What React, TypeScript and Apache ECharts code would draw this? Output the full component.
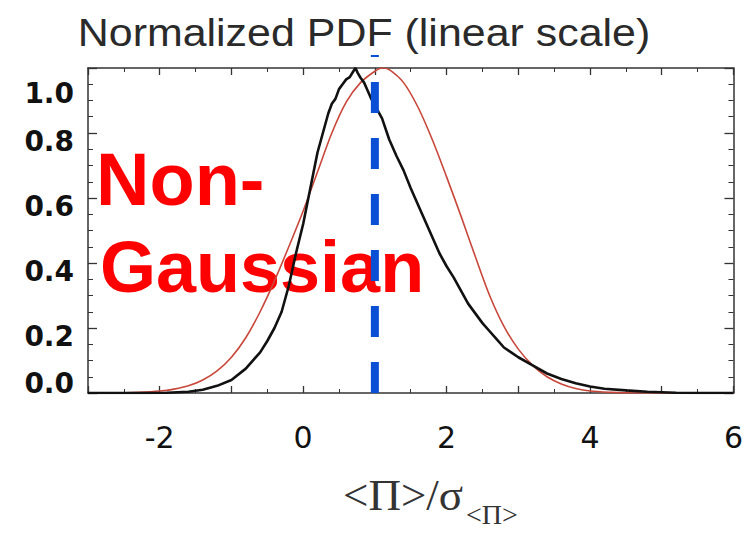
import React, { useEffect, useRef } from "react";
import * as echarts from "echarts";

// Empirical (black) normalized PDF
const blackX = [-3, -2.2, -1.9, -1.6, -1.4, -1.2, -1.0, -0.8, -0.6, -0.5, -0.4, -0.3, -0.2, -0.1, 0.0, 0.1, 0.2, 0.3, 0.35, 0.4, 0.45, 0.5, 0.55, 0.6, 0.65, 0.7, 0.73, 0.76, 0.8, 0.85, 0.9, 0.95, 1.0, 1.1, 1.2, 1.3, 1.4, 1.5, 1.6, 1.7, 1.8, 1.9, 2.0, 2.1, 2.2, 2.3, 2.4, 2.5, 2.6, 2.7, 2.8, 2.9, 3.0, 3.2, 3.4, 3.6, 3.8, 4.0, 4.2, 4.5, 4.8, 5.2, 5.6, 6];
const blackY = [0, 0, 0.001, 0.004, 0.01, 0.022, 0.04, 0.075, 0.125, 0.16, 0.2, 0.25, 0.33, 0.43, 0.52, 0.63, 0.74, 0.82, 0.86, 0.89, 0.905, 0.935, 0.95, 0.965, 0.972, 0.99, 1.0, 0.985, 0.97, 0.955, 0.93, 0.905, 0.885, 0.845, 0.78, 0.73, 0.685, 0.63, 0.58, 0.53, 0.48, 0.43, 0.39, 0.355, 0.315, 0.275, 0.245, 0.215, 0.19, 0.165, 0.14, 0.125, 0.11, 0.085, 0.06, 0.043, 0.03, 0.02, 0.013, 0.008, 0.004, 0.001, 0, 0];

// Gaussian reference (red)
const redX = [-3, -2.6, -2.3, -2.0, -1.8, -1.6, -1.4, -1.2, -1.0, -0.8, -0.6, -0.4, -0.2, 0.0, 0.2, 0.4, 0.6, 0.8, 1.0, 1.1, 1.2, 1.4, 1.6, 1.8, 2.0, 2.2, 2.4, 2.6, 2.8, 3.0, 3.2, 3.4, 3.6, 3.8, 4.0, 4.3, 4.6, 6];
const redY = [0, 0, 0.002, 0.006, 0.012, 0.022, 0.04, 0.068, 0.11, 0.17, 0.25, 0.345, 0.45, 0.56, 0.68, 0.8, 0.895, 0.955, 0.99, 1.0, 0.995, 0.955, 0.88, 0.78, 0.665, 0.545, 0.42, 0.3, 0.205, 0.135, 0.085, 0.05, 0.028, 0.014, 0.006, 0.002, 0, 0];

// Vertical dashed marker (mean)
const markerX = [1, 1];
const markerY = [0, 1.04];

const xTickLabels = ["-2", "0", "2", "4", "6"];
const yTickLabels = ["0.0", "0.2", "0.4", "0.6", "0.8", "1.0"];

const titleText = "Normalized PDF (linear scale)";
const annotationLines = ["Non-", "Gaussian"];
const xNameMain = "<Π>/σ";
const xNameSub = "<Π>";

export default function App() {
  const ref = useRef<HTMLDivElement>(null);
  useEffect(() => {
    if (!ref.current) return;
    const chart = echarts.init(ref.current, undefined, { renderer: "svg" });
    const sans = "'Liberation Sans', Arial, Helvetica, sans-serif";
    const wide = "'DejaVu Sans', Verdana, sans-serif";
    const serif = "'Liberation Serif', 'Times New Roman', serif";
    const frameLine = { show: true, onZero: false, lineStyle: { color: "#333", width: 1.5 } };
    const xCommon = {
      type: "value" as const,
      min: -3,
      max: 6,
      interval: 1,
      splitLine: { show: false },
      axisLine: frameLine,
      axisTick: { show: true, inside: true, length: 7, lineStyle: { color: "#333", width: 1.3 } },
      minorTick: { show: true, splitNumber: 2, length: 4, lineStyle: { color: "#333", width: 1 } },
    };
    const yCommon = {
      type: "value" as const,
      min: 0,
      max: 1.0,
      interval: 0.2,
      splitLine: { show: false },
      axisLine: frameLine,
      axisTick: { show: true, inside: true, length: 9, lineStyle: { color: "#333", width: 1.3 } },
      minorTick: { show: true, splitNumber: 4, length: 5, lineStyle: { color: "#333", width: 1 } },
    };
    const yLabelStyle = { fontSize: 28, fontWeight: "bold", fontFamily: wide, color: "#111" };
    chart.setOption({
      animation: false,
      backgroundColor: "#fff",
      grid: { left: 88, right: 8, top: 68, bottom: 140 },
      xAxis: [
        {
          ...xCommon,
          position: "bottom",
          axisLabel: {
            show: true,
            margin: 29,
            fontSize: 30,
            color: "#111",
            fontFamily: wide,
            formatter: (v: number) => {
              const s = String(Math.round(v));
              return xTickLabels.includes(s) ? s : "";
            },
          },
        },
        { ...xCommon, position: "top", axisLabel: { show: false } },
      ],
      yAxis: [
        {
          ...yCommon,
          position: "left",
          axisLabel: {
            show: true,
            margin: 14,
            formatter: (v: number) => {
              const s = v.toFixed(1);
              if (!yTickLabels.includes(s)) return "";
              if (s === "1.0") return "{top|" + s + "}";
              if (s === "0.0") return "{bot|" + s + "}";
              return "{mid|" + s + "}";
            },
            rich: {
              top: { ...yLabelStyle, padding: [50, 0, 0, 0] },
              mid: { ...yLabelStyle, padding: [16, 0, 0, 0] },
              bot: { ...yLabelStyle, padding: [0, 0, 20, 0] },
            },
          },
        },
        { ...yCommon, position: "right", axisLabel: { show: false } },
      ],
      graphic: [
        {
          type: "text",
          x: 364,
          y: 33,
          scaleX: 1.13,
          style: {
            text: titleText,
            fontSize: 38,
            fontFamily: sans,
            fill: "#2a2a2a",
            textAlign: "center",
            textVerticalAlign: "middle",
          },
        },
        {
          type: "text",
          x: 96,
          y: 179,
          z: 1,
          style: {
            text: annotationLines[0],
            fontSize: 74,
            fontWeight: "bold",
            fontFamily: sans,
            fill: "#ff0000",
            textAlign: "left",
            textVerticalAlign: "middle",
          },
        },
        {
          type: "text",
          x: 100,
          y: 267,
          z: 1,
          style: {
            text: annotationLines[1],
            fontSize: 72,
            fontWeight: "bold",
            fontFamily: sans,
            fill: "#ff0000",
            textAlign: "left",
            textVerticalAlign: "middle",
          },
        },
        {
          type: "text",
          x: 343,
          y: 495,
          style: {
            text: xNameMain,
            fontSize: 45,
            fontFamily: serif,
            fill: "#333",
            textAlign: "left",
            textVerticalAlign: "middle",
          },
        },
        {
          type: "text",
          x: 466,
          y: 514,
          style: {
            text: xNameSub,
            fontSize: 28,
            fontFamily: serif,
            fill: "#333",
            textAlign: "left",
            textVerticalAlign: "middle",
          },
        },
      ],
      series: [
        {
          type: "line",
          name: "Gaussian",
          data: redX.map((x, i) => [x, redY[i]]),
          showSymbol: false,
          smooth: 0.3,
          z: 4,
          lineStyle: { color: "#c8473a", width: 1.6 },
        },
        {
          type: "line",
          name: "PDF",
          data: blackX.map((x, i) => [x, blackY[i]]),
          showSymbol: false,
          z: 5,
          lineStyle: { color: "#111", width: 2.6 },
        },
        {
          type: "line",
          name: "mean",
          data: markerX.map((x, i) => [x, markerY[i]]),
          showSymbol: false,
          clip: false,
          z: 10,
          lineStyle: { color: "#0b50d4", width: 8, type: [31, 25] },
        },
      ],
    });
    return () => chart.dispose();
  }, []);
  return <div ref={ref} style={{ width: 746, height: 533, position: "absolute", left: 0, top: 0 }} />;
}
